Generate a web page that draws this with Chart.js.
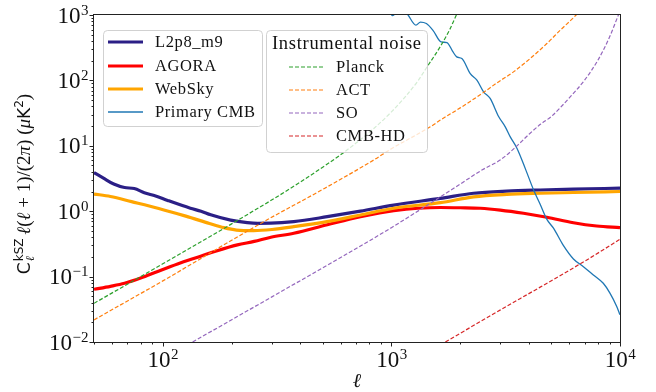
<!DOCTYPE html>
<html>
<head>
<meta charset="utf-8">
<script src="https://cdn.jsdelivr.net/npm/chart.js@4.4.0/dist/chart.umd.min.js"></script>
<style>
  html, body { margin: 0; padding: 0; background: #fff; }
</style>
</head>
<body>
<canvas id="myChart" width="656" height="392"></canvas>
<script>
// kSZ spectra
const ellL2p8 = [50, 55, 61, 68, 75, 83, 93, 105, 132, 147, 162, 198, 234, 260, 297, 374, 524, 732, 1024, 1637, 2288, 3200, 4474, 6256, 10000];
const clL2p8 = [3.9, 3.2, 2.6, 2.3, 2.22, 1.92, 1.71, 1.46, 1.11, 1.0, 0.88, 0.73, 0.67, 0.653, 0.655, 0.692, 0.824, 1.0, 1.24, 1.57, 1.88, 2.03, 2.11, 2.17, 2.25];

const ellAgora = [50, 59, 68, 80, 95, 116, 142, 173, 212, 251, 297, 374, 524, 732, 1024, 1637, 2000, 2447, 2993, 3784, 4788, 6256, 7907, 10000];
const clAgora = [0.064, 0.071, 0.079, 0.095, 0.12, 0.156, 0.198, 0.249, 0.305, 0.345, 0.40, 0.46, 0.62, 0.824, 1.02, 1.14, 1.13, 1.11, 1.04, 0.929, 0.807, 0.667, 0.594, 0.56];

const ellWebsky = [50, 59, 73, 96, 126, 160, 185, 210, 250, 300, 374, 530, 732, 1024, 1637, 2288, 3200, 4474, 6256, 10000];
const clWebsky = [1.83, 1.68, 1.40, 1.10, 0.84, 0.65, 0.56, 0.515, 0.505, 0.525, 0.58, 0.70, 0.875, 1.11, 1.35, 1.66, 1.81, 1.88, 1.93, 2.0];

const ellCmb = [900, 960, 1010, 1080, 1130, 1183, 1280, 1340, 1422, 1520, 1651, 1750, 1860, 1930, 2033, 2213, 2366, 2530, 2704, 2944, 3148, 3311, 3545, 3860, 4188, 4474, 4788, 5117, 5650, 6256, 6918, 7647, 8450, 9036, 9675, 10000];
const clCmb = [2000, 1400, 980, 1200, 1250, 1000, 700, 780, 740, 583, 387, 379, 272, 229, 216, 127, 101, 67, 53, 28, 19.5, 13.7, 9.1, 4.4, 2.11, 1.28, 0.75, 0.55, 0.30, 0.186, 0.142, 0.106, 0.079, 0.056, 0.035, 0.026];

// instrumental noise curves
const ellPlanck = [50, 100, 200, 400, 700, 1000, 1300, 1422, 1637, 1800, 1923, 2050];
const nlPlanck = [0.039, 0.157, 0.64, 2.8, 11, 33, 96, 155, 330, 600, 1000, 1650];

const ellAct = [50, 100, 268, 500, 836, 1000, 1479, 1637, 2000, 2490, 2894, 3420, 4045, 4785, 5470, 6427, 7000];
const nlAct = [0.0218, 0.086, 0.65, 2.15, 6.05, 9.0, 19.5, 24.7, 38, 63, 91.6, 135, 216, 366, 583, 1000, 1400];

const ellSo = [135, 300, 600, 1000, 1400, 2000, 2500, 3000, 3500, 4000, 4500, 5000, 6000, 7000, 8000, 9000, 9840, 10000];
const nlSo = [0.01, 0.049, 0.196, 0.56, 1.17, 2.6, 4.3, 6.1, 9.6, 15, 21.5, 28, 54, 101, 203, 460, 1000, 1150];

const ellHd = [1722, 3000, 4474, 7160, 10000];
const nlHd = [0.01, 0.031, 0.069, 0.18, 0.372];

const xTicks = [100, 1000, 10000];
const xTickExp = ["2", "3", "4"];
const yTicks = [0.01, 0.1, 1, 10, 100, 1000];
const yTickExp = ["\u22122", "\u22121", "0", "1", "2", "3"];

const simNames = ["L2p8_m9", "AGORA", "WebSky", "Primary CMB"];
const noiseNames = ["Planck", "ACT", "SO", "CMB-HD"];

const serif = '"Liberation Serif", "DejaVu Serif", serif';
const sans = '"DejaVu Sans", sans-serif';

function pairs(xs, ys) {
  return xs.map((x, i) => ({ x: x, y: ys[i] }));
}

function solid(label, xs, ys, color, width, order) {
  return { label: label, data: pairs(xs, ys), borderColor: color, borderWidth: width, order: order };
}

function dashed(label, xs, ys, color, order) {
  return { label: label, data: pairs(xs, ys), borderColor: color, borderWidth: 1.2, borderDash: [4, 2], order: order };
}

const datasets = [
  solid(simNames[0], ellL2p8, clL2p8, "#2b1f86", 3.2, 8),
  solid(simNames[1], ellAgora, clAgora, "#ff0000", 3.2, 7),
  solid(simNames[2], ellWebsky, clWebsky, "#ffa500", 3.2, 6),
  solid(simNames[3], ellCmb, clCmb, "#1f77b4", 1.3, 5),
  dashed(noiseNames[0], ellPlanck, nlPlanck, "#2ca02c", 4),
  dashed(noiseNames[1], ellAct, nlAct, "#ff7f0e", 3),
  dashed(noiseNames[2], ellSo, nlSo, "#9467bd", 2),
  dashed(noiseNames[3], ellHd, nlHd, "#d62728", 1),
];

function minorValues(lo, hi) {
  const out = [];
  for (let e = -3; e <= 5; e++) {
    for (let m = 2; m <= 9; m++) {
      const v = m * Math.pow(10, e);
      if (v >= lo && v <= hi) out.push(v);
    }
  }
  return out;
}

function drawPower(ctx, x, y, exp, align) {
  ctx.font = "23px " + serif;
  const w1 = ctx.measureText("10").width;
  ctx.font = "15px " + serif;
  const w2 = ctx.measureText(exp).width;
  let x0 = align === "right" ? x - w1 - w2 : x - (w1 + w2) / 2;
  ctx.textAlign = "left";
  ctx.textBaseline = "alphabetic";
  ctx.font = "23px " + serif;
  ctx.fillText("10", x0, y);
  ctx.font = "15px " + serif;
  ctx.fillText(exp, x0 + w1 + 0.5, y - 8);
}

function roundBox(ctx, x, y, w, h, r) {
  ctx.beginPath();
  ctx.moveTo(x + r, y);
  ctx.arcTo(x + w, y, x + w, y + h, r);
  ctx.arcTo(x + w, y + h, x, y + h, r);
  ctx.arcTo(x, y + h, x, y, r);
  ctx.arcTo(x, y, x + w, y, r);
  ctx.closePath();
  ctx.fillStyle = "rgba(255,255,255,0.8)";
  ctx.fill();
  ctx.strokeStyle = "rgba(204,204,204,0.9)";
  ctx.lineWidth = 1;
  ctx.stroke();
}

const decorations = {
  id: "decorations",
  afterDatasetsDraw(chart) {
    const ctx = chart.ctx;
    const area = chart.chartArea;
    const xs = chart.scales.x;
    const ys = chart.scales.y;
    ctx.save();

    // frame
    ctx.strokeStyle = "#222";
    ctx.lineWidth = 1;
    ctx.strokeRect(area.left - 0.5, area.top - 0.5, area.right - area.left + 1, area.bottom - area.top + 1);

    // ticks
    ctx.beginPath();
    xTicks.forEach(v => {
      const p = Math.round(xs.getPixelForValue(v)) + 0.5;
      ctx.moveTo(p, area.bottom); ctx.lineTo(p, area.bottom + 4.5);
    });
    minorValues(xs.min, xs.max).forEach(v => {
      const p = Math.round(xs.getPixelForValue(v)) + 0.5;
      ctx.moveTo(p, area.bottom); ctx.lineTo(p, area.bottom + 2.5);
    });
    yTicks.forEach(v => {
      const p = Math.round(ys.getPixelForValue(v)) + 0.5;
      ctx.moveTo(area.left, p); ctx.lineTo(area.left - 4.5, p);
    });
    minorValues(ys.min, ys.max).forEach(v => {
      const p = Math.round(ys.getPixelForValue(v)) + 0.5;
      ctx.moveTo(area.left, p); ctx.lineTo(area.left - 2.5, p);
    });
    ctx.stroke();

    // tick labels
    ctx.fillStyle = "#111";
    xTicks.forEach((v, i) => {
      drawPower(ctx, xs.getPixelForValue(v), area.bottom + 24.5, xTickExp[i], "center");
    });
    yTicks.forEach((v, i) => {
      drawPower(ctx, area.left - 6, ys.getPixelForValue(v) + 7.5, yTickExp[i], "right");
    });

    // x label
    ctx.font = "italic 20px " + serif;
    ctx.textAlign = "center";
    ctx.fillText("\u2113", (area.left + area.right) / 2, 387);

    // y label, rotated
    const parts = [
      { t: "C", f: "17px " + sans, dy: 0 },
      { t: "kSZ", f: "12px " + sans, dy: -7, sup: true },
      { t: "\u2113", f: "italic 12px " + serif, dy: 4, sub: true },
      { t: " \u2113", f: "italic 19px " + serif, dy: 0 },
      { t: "(", f: "19px " + serif, dy: 0 },
      { t: "\u2113", f: "italic 19px " + serif, dy: 0 },
      { t: " + 1)/(2", f: "19px " + serif, dy: 0 },
      { t: "\u03c0", f: "italic 19px " + serif, dy: 0 },
      { t: ") (", f: "19px " + serif, dy: 0 },
      { t: "\u03bc", f: "italic 19px " + serif, dy: 0 },
      { t: "K", f: "17px " + sans, dy: 0 },
      { t: "2", f: "12px " + sans, dy: -7 },
      { t: ")", f: "19px " + serif, dy: 0 },
    ];
    let total = 0;
    let supW = 0;
    const adv = parts.map(p => {
      ctx.font = p.f;
      const w = ctx.measureText(p.t).width;
      if (p.sup) { supW = w; return 0; }
      if (p.sub) { const a = Math.max(w, supW); return a; }
      return w;
    });
    adv.forEach(a => total += a);
    ctx.translate(30, 184);
    ctx.rotate(-Math.PI / 2);
    ctx.textAlign = "left";
    let cx = -total / 2;
    parts.forEach((p, i) => {
      ctx.font = p.f;
      ctx.fillText(p.t, cx + (p.sup || p.sub ? 1 : 0), p.dy);
      cx += adv[i];
    });
    ctx.setTransform(1, 0, 0, 1, 0, 0);

    // legend: simulations
    roundBox(ctx, 103.5, 30.5, 159, 96, 4);
    const rows1 = [42, 66, 89, 112];
    ctx.letterSpacing = "0.6px";
    simNames.forEach((name, i) => {
      const ds = datasets[i];
      ctx.beginPath();
      ctx.strokeStyle = ds.borderColor;
      ctx.lineWidth = ds.borderWidth;
      ctx.moveTo(108, rows1[i]); ctx.lineTo(143, rows1[i]);
      ctx.stroke();
      ctx.fillStyle = "#111";
      ctx.font = "16.5px " + serif;
      ctx.textAlign = "left";
      ctx.textBaseline = "middle";
      ctx.fillText(name, 155, rows1[i] + 1);
    });

    // legend: instrumental noise
    roundBox(ctx, 266.5, 30.5, 161, 122, 4);
    ctx.fillStyle = "#111";
    ctx.font = "18.5px " + serif;
    ctx.letterSpacing = "0.7px";
    ctx.textBaseline = "middle";
    ctx.fillText("Instrumental noise", 272, 44);
    ctx.letterSpacing = "0.6px";
    const rows2 = [67, 90, 113, 136];
    noiseNames.forEach((name, i) => {
      const ds = datasets[4 + i];
      ctx.beginPath();
      ctx.strokeStyle = ds.borderColor;
      ctx.lineWidth = ds.borderWidth;
      ctx.setLineDash(ds.borderDash);
      ctx.moveTo(289, rows2[i]); ctx.lineTo(323, rows2[i]);
      ctx.stroke();
      ctx.setLineDash([]);
      ctx.fillStyle = "#111";
      ctx.font = "16.5px " + serif;
      ctx.fillText(name, 336, rows2[i] + 1);
    });
    ctx.letterSpacing = "0px";

    ctx.restore();
  }
};

const config = {
  type: "line",
  data: { datasets: datasets },
  options: {
    responsive: false,
    animation: false,
    events: [],
    layout: { padding: { left: 94, right: 36, top: 15, bottom: 50 } },
    elements: {
      point: { radius: 0 },
      line: { cubicInterpolationMode: "monotone", fill: false, borderCapStyle: "butt" },
    },
    datasets: { line: { clip: 0 } },
    scales: {
      x: { type: "logarithmic", min: 50, max: 10000, display: false },
      y: { type: "logarithmic", min: 0.01, max: 1000, display: false },
    },
    plugins: { legend: { display: false }, tooltip: { enabled: false } },
  },
  plugins: [decorations],
};

const myChart = new Chart(document.getElementById("myChart"), config);
</script>
</body>
</html>
